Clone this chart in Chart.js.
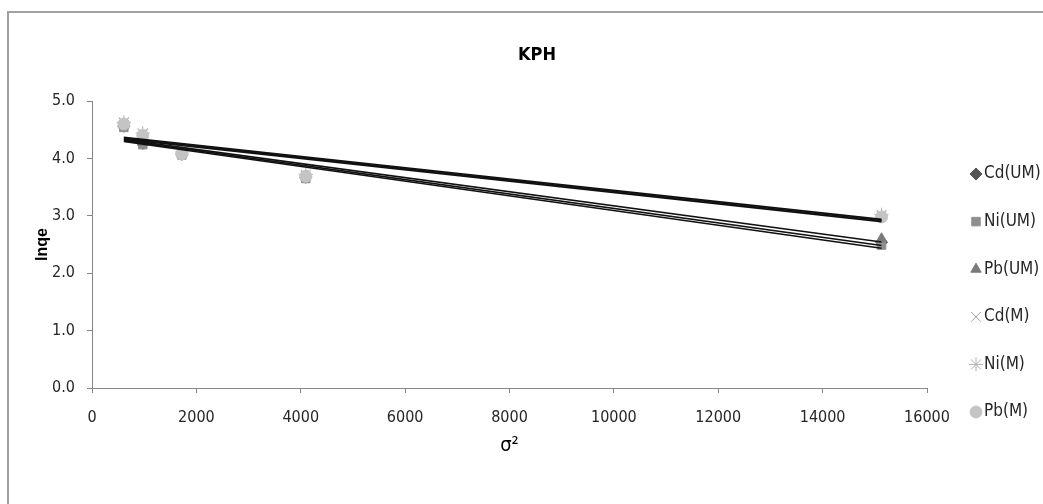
<!DOCTYPE html>
<html>
<head>
<meta charset="utf-8">
<title>KPH</title>
<script src="https://cdn.jsdelivr.net/npm/chart.js@4.4.0/dist/chart.umd.min.js"></script>
<style>
  html, body { margin: 0; padding: 0; background: #fff; }
  #wrap { position: relative; width: 1043px; height: 504px; overflow: hidden; }
  #frame { position: absolute; left: 7px; top: 11px; width: 1100px; height: 600px;
           border-top: 2px solid #a0a0a0; border-left: 2px solid #a0a0a0; }
  canvas { position: absolute; left: 0; top: 0; }
</style>
</head>
<body>
<div id="wrap">
  <div id="frame"></div>
  <canvas id="chart" width="1043" height="504"></canvas>
</div>
<script>
// Data
const sigmaSq = [610, 973, 1722, 4096, 15129];
const seriesNames = ['Cd(UM)', 'Ni(UM)', 'Pb(UM)', 'Cd(M)', 'Ni(M)', 'Pb(M)'];
const cdUM = [4.56, 4.26, 4.07, 3.67, 2.54];
const niUM = [4.54, 4.24, 4.06, 3.65, 2.49];
const pbUM = [4.58, 4.28, 4.09, 3.69, 2.60];
const cdM = [4.62, 4.42, 4.10, 3.70, 3.00];
const niM = [4.63, 4.44, 4.11, 3.72, 3.02];
const pbM = [4.60, 4.40, 4.08, 3.69, 2.98];
const seriesValues = [cdUM, niUM, pbUM, cdM, niM, pbM];
const chartTitle = 'KPH';

// Marker look for each series (grey Excel style)
const markerStyles = [
    { pointStyle: 'rectRot', color: '#555555', radius: 6 },
    { pointStyle: 'rect', color: '#8f8f8f', radius: 6 },
    { pointStyle: 'triangle', color: '#7a7a7a', radius: 6 },
    { pointStyle: 'crossRot', color: '#a0a0a0', radius: 7 },
    { pointStyle: 'star', color: '#b0b0b0', radius: 7 },
    { pointStyle: 'circle', color: '#c4c4c4', radius: 6 },
];

const narrowFont = "'Liberation Sans Narrow', 'DejaVu Sans Condensed', 'Roboto', sans-serif";
const textColor = '#262626';
const axisColor = '#868686';

// Least squares trend line across the data range
const trendLine = (xs, ys) => {
    const n = xs.length;
    const mx = xs.reduce((a, b) => a + b, 0) / n;
    const my = ys.reduce((a, b) => a + b, 0) / n;
    let sxy = 0, sxx = 0;
    xs.forEach((x, i) => { sxy += (x - mx) * (ys[i] - my); sxx += (x - mx) * (x - mx); });
    const slope = sxy / sxx;
    const icpt = my - slope * mx;
    const x0 = Math.min(...xs), x1 = Math.max(...xs);
    return [{ x: x0, y: icpt + slope * x0 }, { x: x1, y: icpt + slope * x1 }];
};

const pointSets = seriesNames.map((name, i) => ({
    type: 'scatter',
    label: name,
    data: sigmaSq.map((x, j) => ({ x: x, y: seriesValues[i][j] })),
    pointStyle: markerStyles[i].pointStyle,
    pointRadius: markerStyles[i].radius,
    backgroundColor: markerStyles[i].color,
    borderColor: markerStyles[i].color,
    borderWidth: 1,
    order: 10 - i,
}));

const trendSets = seriesNames.map((name, i) => ({
    type: 'line',
    label: name + ' trend',
    data: trendLine(sigmaSq, seriesValues[i]),
    borderColor: '#111111',
    borderWidth: 1.6,
    pointRadius: 0,
    fill: false,
    order: 0,
}));

// Title and legend drawn by hand so they sit where the original has them
const sideLegend = {
    id: 'sideLegend',
    afterDraw(chart) {
        const ctx = chart.ctx;
        ctx.save();
        ctx.textBaseline = 'middle';
        ctx.textAlign = 'center';
        ctx.fillStyle = '#000';
        ctx.font = 'bold 18px ' + narrowFont;
        ctx.fillText(chartTitle, 537, 55);

        ctx.textAlign = 'left';
        ctx.font = '17px ' + narrowFont;
        seriesNames.forEach((name, i) => {
            const y = 174 + i * 47.6;
            const m = markerStyles[i];
            ctx.fillStyle = m.color;
            ctx.strokeStyle = m.color;
            ctx.lineWidth = 1;
            Chart.helpers.drawPoint(ctx, { pointStyle: m.pointStyle, radius: m.radius, rotation: 0, borderWidth: 1 }, 976, y);
            ctx.fillStyle = textColor;
            ctx.fillText(name, 984, y);
        });
        ctx.restore();
    }
};

const chart = new Chart(document.getElementById('chart').getContext('2d'), {
    data: { datasets: [...trendSets, ...pointSets] },
    options: {
        responsive: false,
        animation: false,
        layout: { padding: { left: 0, right: 116, top: 101, bottom: 0 } },
        plugins: {
            legend: { display: false },
            tooltip: { enabled: false },
            title: { display: false },
        },
        scales: {
            x: {
                type: 'linear',
                min: 0,
                max: 16000,
                afterFit: (scale) => { scale.height = 116; },
                ticks: { stepSize: 2000, color: textColor, padding: 15, maxRotation: 0,
                         callback: (v) => String(v),
                         font: { family: narrowFont, size: 16 } },
                grid: { drawOnChartArea: false, drawTicks: true, tickLength: 5, color: axisColor },
                border: { color: axisColor, width: 1 },
                title: { display: true, text: 'σ²', color: '#000', padding: { top: 0, bottom: 46 },
                         font: { family: narrowFont, size: 20 } },
            },
            y: {
                min: 0,
                max: 5,
                afterFit: (scale) => { scale.width = 92; },
                ticks: { stepSize: 1, color: textColor, padding: 12,
                         callback: (v) => v.toFixed(1),
                         font: { family: narrowFont, size: 16 } },
                grid: { drawOnChartArea: false, drawTicks: true, tickLength: 5, color: axisColor },
                border: { color: axisColor, width: 1 },
                title: { display: true, text: 'lnqe', color: '#000', padding: { top: 33, bottom: 0 },
                         font: { family: "'Liberation Sans', Arial, sans-serif", size: 16, weight: 'bold' } },
            },
        },
    },
    plugins: [sideLegend],
});
</script>
</body>
</html>
